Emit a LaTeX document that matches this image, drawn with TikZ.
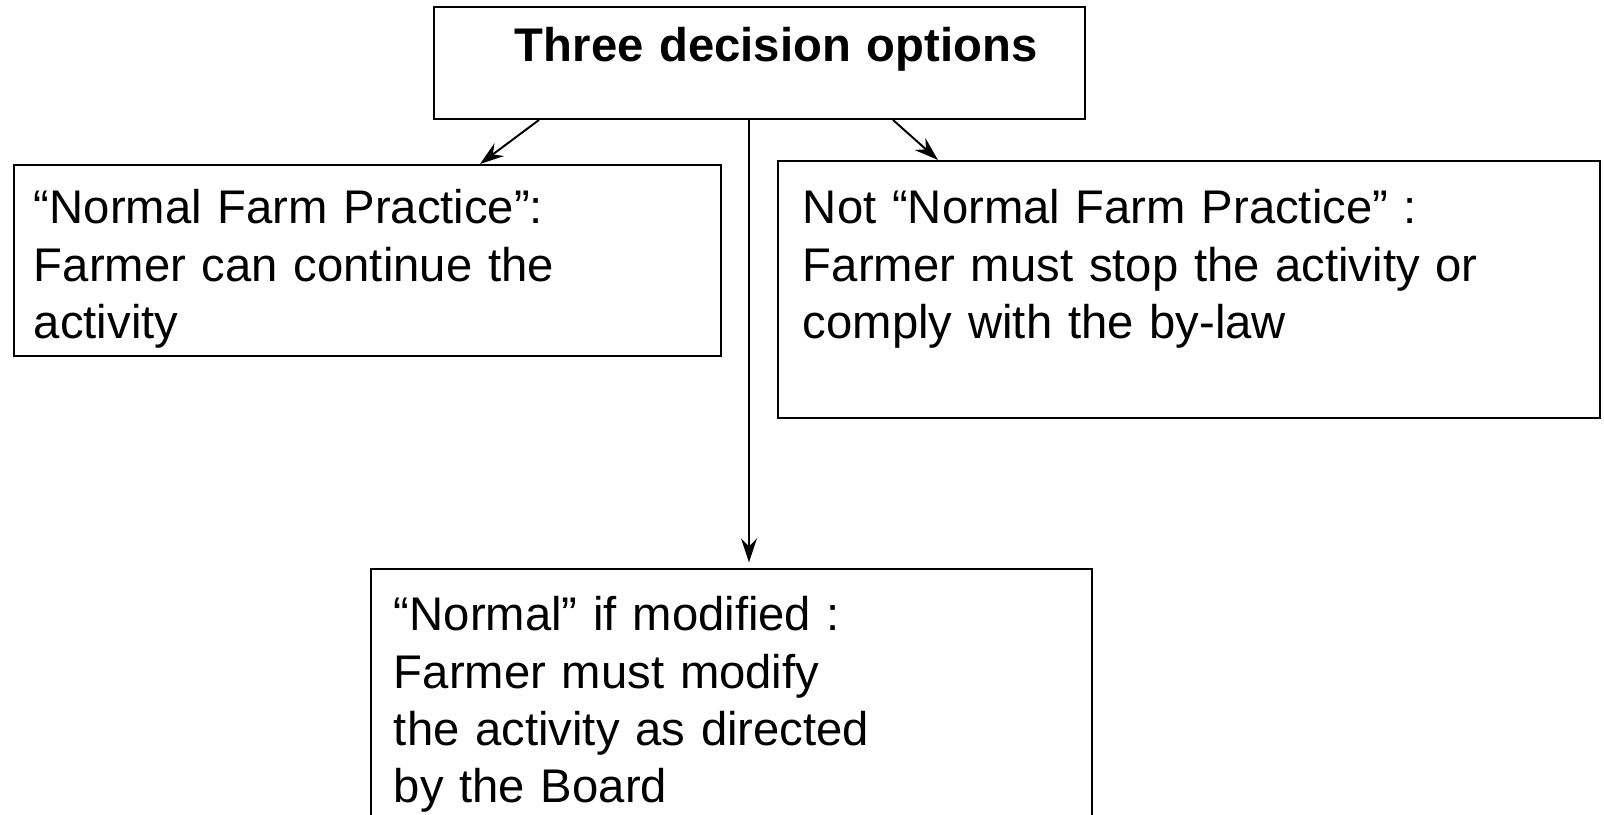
\documentclass[tikz,border=0pt]{standalone}
\usepackage{fontspec}
\setmainfont{Liberation Sans}
\usetikzlibrary{arrows.meta}

\begin{document}
\begin{tikzpicture}[
    optbox/.style={draw, line width=0.7pt, anchor=north west, inner ysep=0pt, align=left,
        font=\fontsize{16.8}{20.3}\selectfont},
    arr/.style={-{Stealth[length=3mm,width=2mm,inset=1mm]}, line width=0.7pt}
  ]
            \useasboundingbox (0,0) rectangle (20.05,10.1875);
            \clip (0,0) rectangle (20.05,10.1875);
            \node[optbox, inner xsep=0pt, text width=8.1375cm, text height=0.6875cm, text depth=0.7125cm]
                (top) at (5.4125,10.1125) {\hspace*{1.0125cm}\textbf{Three decision options}};
            \node[optbox, inner xsep=0.25cm, text width=8.3375cm, text height=0.7375cm, text depth=1.65cm]
                (normal) at (0.1625,8.1375) {“Normal Farm Practice”:\\Farmer can continue the\\activity};
            \node[optbox, inner xsep=0.3125cm, text width=9.65cm, text height=0.7875cm, text depth=2.425cm]
                (notnormal) at (9.7125,8.1875) {Not “Normal Farm Practice” :\\Farmer must stop the activity or\\comply with the by-law};
            \node[optbox, inner xsep=0.2875cm, text width=8.4375cm, text height=0.775cm, text depth=2.5cm]
                (modified) at (4.625,3.0875) {“Normal” if modified :\\Farmer must modify\\the activity as directed\\by the Board};
            \draw[arr] ([xshift=1.325cm]top.south west) -- ([xshift=5.8375cm]normal.north west);
            \draw[arr, shorten >=0.07cm] ([xshift=3.95cm]top.south west) -- ([xshift=4.7375cm]modified.north west);
            \draw[arr] ([xshift=5.75cm]top.south west) -- ([xshift=2.0125cm]notnormal.north west);
        \end{tikzpicture}
\end{document}
